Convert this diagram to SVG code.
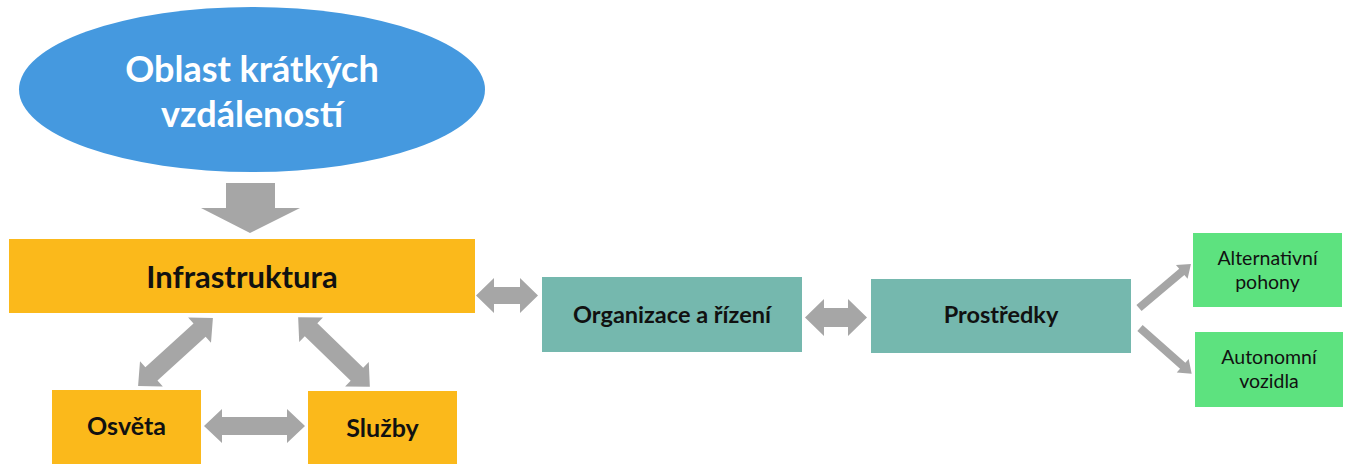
<svg xmlns="http://www.w3.org/2000/svg" width="1349" height="464" viewBox="0 0 1349 464">
<style>
.yel{fill:#FBB91B}
.teal{fill:#75B8AE}
.grn{fill:#5DE27F}
.arr{fill:#A6A6A6}
.t{font-family:Lato,"Open Sans","Liberation Sans",sans-serif;text-anchor:middle;fill:#111}
.b{font-weight:bold}
</style>
<rect width="1349" height="464" fill="#fff"/>
<g id="oblast">
<ellipse cx="252" cy="89.5" rx="233" ry="82.5" fill="#4599DF"/>
<text class="t b" x="252" y="82" font-size="36" fill="#fff" style="fill:#fff">Oblast krátkých</text>
<text class="t b" x="252" y="127" font-size="36" style="fill:#fff">vzdáleností</text>
</g>
<g id="infrastruktura">
<rect class="yel" x="9" y="239" width="466" height="74"/>
<text class="t b" x="242" y="288" font-size="31">Infrastruktura</text>
</g>
<g id="osveta">
<rect class="yel" x="52" y="390" width="149" height="74"/>
<text class="t b" x="126.5" y="435" font-size="25">Osvěta</text>
</g>
<g id="sluzby">
<rect class="yel" x="308" y="391" width="149" height="73"/>
<text class="t b" x="382.5" y="437" font-size="25">Služby</text>
</g>
<g id="organizace">
<rect class="teal" x="542" y="277" width="260" height="75"/>
<text class="t b" x="672" y="323" font-size="23.5">Organizace a řízení</text>
</g>
<g id="prostredky">
<rect class="teal" x="871" y="279" width="260" height="74"/>
<text class="t b" x="1001" y="323" font-size="23.5">Prostředky</text>
</g>
<g id="alternativni">
<rect class="grn" x="1193" y="233" width="149" height="74"/>
<text class="t" x="1267.5" y="265" font-size="19.5">Alternativní</text>
<text class="t" x="1267.5" y="289" font-size="19.5">pohony</text>
</g>
<g id="autonomni">
<rect class="grn" x="1195" y="332" width="148" height="75"/>
<text class="t" x="1269" y="364" font-size="19.5">Autonomní</text>
<text class="t" x="1269" y="388" font-size="19.5">vozidla</text>
</g>
<g id="connectors">
<polygon class="arr" points="226,183 275,183 275,208 300,208 250,233 201,208 226,208"/>
<polygon class="arr" transform="translate(507,295.5)" points="-31,0 -13,-17.5 -13,-8.5 13,-8.5 13,-17.5 31,0 13,17.5 13,8.5 -13,8.5 -13,17.5"/>
<polygon class="arr" transform="translate(836,317.5)" points="-31,0 -12,-18.5 -12,-9.5 12,-9.5 12,-18.5 31,0 12,18.5 12,9.5 -12,9.5 -12,18.5"/>
<polygon class="arr" transform="translate(254.5,426)" points="-50.5,0 -32.5,-17 -32.5,-9 32.5,-9 32.5,-17 50.5,0 32.5,17 32.5,9 -32.5,9 -32.5,17"/>
<polygon class="arr" transform="translate(175.5,352) rotate(-42.2)" points="-50.5,0 -32.5,-17 -32.5,-9 32.5,-9 32.5,-17 50.5,0 32.5,17 32.5,9 -32.5,9 -32.5,17"/>
<polygon class="arr" transform="translate(334,352) rotate(44.2)" points="-50,0 -32,-17 -32,-9 32,-9 32,-17 50,0 32,17 32,9 -32,9 -32,17"/>
<polygon class="arr" transform="translate(1139,308) rotate(-40.2)" points="0,-4 56,-4 56,-9 68,0 56,9 56,4 0,4"/>
<polygon class="arr" transform="translate(1140,328) rotate(41.5)" points="0,-4 57,-4 57,-9 69,0 57,9 57,4 0,4"/>
</g>
</svg>
